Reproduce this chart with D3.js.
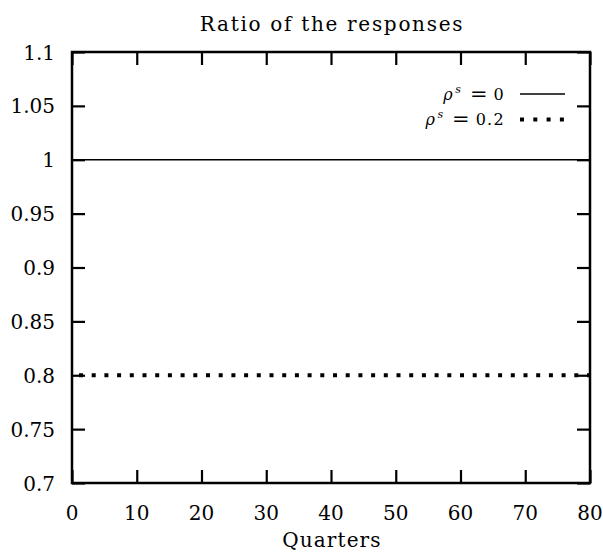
<!DOCTYPE html>
<html>
<head>
<meta charset="utf-8">
<script src="https://cdn.jsdelivr.net/npm/d3@7"></script>
<style>
  html, body { margin: 0; padding: 0; background: #fff; }
  svg { display: block; }
  text { font-family: "DejaVu Serif", "Liberation Serif", serif; fill: #000; }
</style>
</head>
<body>
<svg id="chart" width="603" height="553"></svg>
<script>
// ---- data ----
const quarters = [0, 5, 10, 15, 20, 25, 30, 35, 40, 45, 50, 55, 60, 65, 70, 75, 80];
const ratioRho0 = [1, 1, 1, 1, 1, 1, 1, 1, 1, 1, 1, 1, 1, 1, 1, 1, 1];
const ratioRho02 = [0.8, 0.8, 0.8, 0.8, 0.8, 0.8, 0.8, 0.8, 0.8, 0.8, 0.8, 0.8, 0.8, 0.8, 0.8, 0.8, 0.8];
const seriesNames = ["0", "0.2"];
const xTicks = [0, 10, 20, 30, 40, 50, 60, 70, 80];
const yTicks = [0.7, 0.75, 0.8, 0.85, 0.9, 0.95, 1, 1.05, 1.1];
const titleText = "Ratio of the responses";
const xLabel = "Quarters";

(function () {
// ---- layout ----
const pL = 72, pR = 590, pT = 52, pB = 483;
const svg = d3.select("#chart");

const x = d3.scaleLinear().domain([0, 80]).range([pL, pR]);
const y = d3.scaleLinear().domain([0.7, 1.1]).range([pB, pT]);

const tickLen = 13;

// title
svg.append("text")
  .attr("x", 332).attr("y", 31)
  .attr("text-anchor", "middle")
  .style("font-size", "20px")
  .style("letter-spacing", "1.7px")
  .text(titleText);

// axes using d3 axes (inner ticks)
const fmt = d => String(d);
const axL = d3.axisRight(y).tickValues(yTicks).tickSize(tickLen).tickFormat("");
const axR = d3.axisLeft(y).tickValues(yTicks).tickSize(tickLen).tickFormat("");
const axB = d3.axisTop(x).tickValues(xTicks).tickSize(tickLen).tickFormat("");
const axT = d3.axisBottom(x).tickValues(xTicks).tickSize(tickLen).tickFormat("");

function styleAxis(g) {
  g.select(".domain").remove();
  g.selectAll(".tick line").attr("stroke", "#000").attr("stroke-width", 2.2);
}
svg.append("g").attr("transform", `translate(${pL},0)`).call(axL).call(styleAxis);
svg.append("g").attr("transform", `translate(${pR},0)`).call(axR).call(styleAxis);
svg.append("g").attr("transform", `translate(0,${pB})`).call(axB).call(styleAxis);
svg.append("g").attr("transform", `translate(0,${pT})`).call(axT).call(styleAxis);

// tick labels
svg.append("g").selectAll("text").data(yTicks).join("text")
  .attr("x", 55).attr("y", d => y(d) + 7.5)
  .attr("text-anchor", "end")
  .style("font-size", "20px")
  .text(fmt);

svg.append("g").selectAll("text").data(xTicks).join("text")
  .attr("x", d => x(d)).attr("y", 520)
  .attr("text-anchor", "middle")
  .style("font-size", "20px")
  .text(fmt);

// x label
svg.append("text")
  .attr("x", 332).attr("y", 547)
  .attr("text-anchor", "middle")
  .style("font-size", "20px")
  .style("letter-spacing", "1.1px")
  .text(xLabel);

// lines
const pts0 = quarters.map((q, i) => [q, ratioRho0[i]]);
const pts1 = quarters.map((q, i) => [q, ratioRho02[i]]);
const line = d3.line().x(d => x(d[0])).y(d => y(d[1]));

svg.append("path").attr("d", line(pts0))
  .attr("fill", "none").attr("stroke", "#000").attr("stroke-width", 1.7);

svg.append("path").attr("d", line(pts1))
  .attr("fill", "none").attr("stroke", "#000").attr("stroke-width", 4)
  .attr("stroke-dasharray", "4,8.7").attr("stroke-dashoffset", 5.7);

// frame
svg.append("rect")
  .attr("x", pL).attr("y", pT)
  .attr("width", pR - pL).attr("height", pB - pT)
  .attr("fill", "none").attr("stroke", "#000").attr("stroke-width", 2.5);

// legend
const legendRows = [
  { name: seriesNames[0], y: 94, dash: null, w: 1.7 },
  { name: seriesNames[1], y: 119.5, dash: "4,9.3", w: 4 }
];
legendRows.forEach(r => {
  const base = r.y + 5.5;
  const valEnd = 505;
  const v = svg.append("text")
    .attr("x", valEnd).attr("y", base)
    .attr("text-anchor", "end")
    .style("font-size", "16px")
    .style("letter-spacing", "1.3px")
    .text(r.name);
  const vw = v.node().getComputedTextLength();
  const eqEnd = valEnd - vw - 6;
  const eq = svg.append("text")
    .attr("x", eqEnd).attr("y", base + 1)
    .attr("text-anchor", "end")
    .style("font-size", "21px")
    .text("=");
  const ew = eq.node().getComputedTextLength();
  const sEnd = eqEnd - ew - 9;
  const s = svg.append("text")
    .attr("x", sEnd).attr("y", base - 7)
    .attr("text-anchor", "end")
    .style("font-size", "11px")
    .style("font-style", "italic")
    .text("s");
  const sw = s.node().getComputedTextLength();
  svg.append("text")
    .attr("x", sEnd - sw - 2.5).attr("y", base)
    .attr("text-anchor", "end")
    .style("font-size", "16px")
    .style("font-style", "italic")
    .text("ρ");
  const l = svg.append("line")
    .attr("x1", 520).attr("x2", 565).attr("y1", r.y).attr("y2", r.y)
    .attr("stroke", "#000").attr("stroke-width", r.w);
  if (r.dash) l.attr("stroke-dasharray", r.dash);
});
})();
</script>
</body>
</html>
